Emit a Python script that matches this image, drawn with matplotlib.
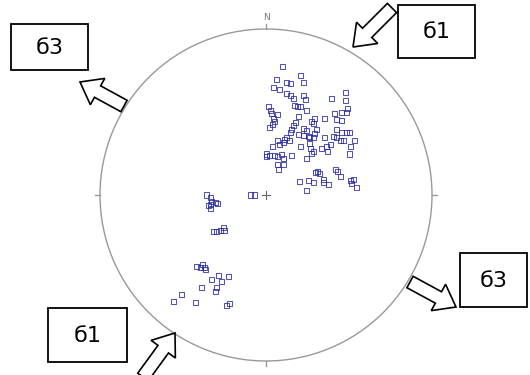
import numpy as np
import matplotlib
matplotlib.use("Agg")
import matplotlib.pyplot as plt
from matplotlib.patches import Circle, FancyArrow, Rectangle

# Poles in the equal-area net, unit-circle coordinates (east, north)
pole_x = [0.098, 0.064, 0.209, 0.125, 0.149, 0.223, 0.048, 0.080, 0.125, 0.145,
          0.225, 0.164, 0.235, 0.476, 0.478, 0.393, 0.014, 0.028, 0.034, 0.170,
          0.189, 0.205, 0.245, 0.492, 0.482, 0.070, 0.044, 0.054, 0.193, 0.414,
          0.456, 0.291, 0.351, 0.175, 0.164, 0.275, 0.285, 0.422, 0.454, 0.024,
          0.040, 0.155, 0.145, 0.225, 0.241, 0.305, 0.295, 0.426, 0.456, 0.486,
          0.506, 0.125, 0.140, 0.104, 0.114, 0.195, 0.225, 0.255, 0.265, 0.285,
          0.351, 0.405, 0.426, 0.446, 0.466, 0.536, 0.070, 0.084, 0.040, 0.205,
          0.265, 0.271, 0.336, 0.366, 0.386, 0.512, 0.506, 0.004, 0.004, 0.024,
          0.054, 0.068, 0.095, 0.104, 0.155, 0.245, 0.275, 0.289, 0.369, 0.068,
          0.074, 0.108, 0.301, 0.309, 0.325, 0.416, 0.430, 0.446, 0.201, 0.255,
          0.285, 0.345, 0.349, 0.375, 0.510, 0.530, 0.516, 0.546, 0.245, -0.096,
          -0.072, -0.357, -0.333, -0.327, -0.307, -0.293, -0.337, -0.348, -0.337,
          -0.317, -0.297, -0.277, -0.253, -0.257, -0.417, -0.393, -0.381, -0.373,
          -0.367, -0.287, -0.227, -0.327, -0.267, -0.387, -0.297, -0.307, -0.508,
          -0.558, -0.422, -0.237, -0.221]
pole_y = [0.773, 0.697, 0.721, 0.677, 0.673, 0.677, 0.646, 0.633, 0.613, 0.598,
          0.598, 0.583, 0.577, 0.620, 0.568, 0.583, 0.536, 0.512, 0.492, 0.542,
          0.532, 0.536, 0.512, 0.520, 0.496, 0.486, 0.462, 0.442, 0.472, 0.488,
          0.496, 0.462, 0.462, 0.436, 0.416, 0.442, 0.428, 0.452, 0.448, 0.408,
          0.422, 0.392, 0.375, 0.402, 0.386, 0.392, 0.372, 0.392, 0.375, 0.375,
          0.378, 0.348, 0.331, 0.315, 0.336, 0.367, 0.361, 0.355, 0.348, 0.348,
          0.348, 0.355, 0.348, 0.331, 0.327, 0.327, 0.331, 0.307, 0.291, 0.291,
          0.311, 0.281, 0.281, 0.291, 0.305, 0.295, 0.247, 0.247, 0.231, 0.235,
          0.235, 0.231, 0.241, 0.221, 0.235, 0.221, 0.251, 0.261, 0.261, 0.181,
          0.155, 0.181, 0.134, 0.139, 0.131, 0.151, 0.139, 0.114, 0.080, 0.090,
          0.074, 0.095, 0.074, 0.062, 0.090, 0.095, 0.070, 0.046, 0.030, 0.000,
          0.000, 0.000, -0.014, -0.040, -0.046, -0.050, -0.060, -0.066, -0.080,
          -0.221, -0.221, -0.215, -0.211, -0.195, -0.428, -0.436, -0.416, -0.436,
          -0.448, -0.482, -0.492, -0.508, -0.522, -0.556, -0.556, -0.583, -0.602,
          -0.639, -0.649, -0.663, -0.652]

# Principal stress labels, one per box
stress_labels = ["б3", "б1", "б3", "б1"]

W, H = 530, 375
fig = plt.figure(figsize=(W / 100, H / 100), dpi=100)

# Net placement (pixels): centre and radius
cx, cy, R = 266, 195, 166
net = fig.add_axes([(cx - R) / W, (H - cy - R) / H, 2 * R / W, 2 * R / H])
net.set_xlim(-1, 1)
net.set_ylim(-1, 1)
net.set_aspect("equal")
net.axis("off")

grey = "#999999"
net.add_patch(Circle((0, 0), 1, fill=False, ec=grey, lw=1.0, clip_on=False))
t = 0.03
for (x0, y0, x1, y1) in [(0, 1, 0, 1 + t), (1, 0, 1 + t, 0),
                         (0, -1, 0, -1 - t), (-1, 0, -1 - t, 0)]:
    net.plot([x0, x1], [y0, y1], color=grey, lw=1.0, clip_on=False)
net.text(0, 1.04, "N", ha="center", va="bottom", fontsize=6.5, color="#777777")
c = 0.025
net.plot([-c, c], [0, 0], color="#666666", lw=0.8)
net.plot([0, 0], [-c, c], color="#666666", lw=0.8)

net.scatter(pole_x, pole_y, marker="s", s=13, facecolors="none",
            edgecolors="#2a2aa0", linewidths=0.75, alpha=0.8, clip_on=False)

# Overlay in pixel units for the stress boxes and arrows
ov = fig.add_axes([0, 0, 1, 1])
ov.set_xlim(0, W)
ov.set_ylim(H, 0)
ov.axis("off")
ov.patch.set_alpha(0)

boxes = [(11, 24, 77, 46), (398, 5, 77, 53), (460, 253, 67, 54), (48, 308, 79, 54)]
arrows = [((124, 106), (80, 82)), ((392, 8), (353, 47)),
          ((410, 282), (456, 307)), ((143, 377), (175, 333))]

for lab, (bx, by, bw, bh) in zip(stress_labels, boxes):
    ov.add_patch(Rectangle((bx, by), bw, bh, fill=True, fc="white",
                           ec="black", lw=1.3))
    ov.text(bx + bw / 2, by + bh / 2 + 1, lab, ha="center", va="center",
            fontsize=16, color="black")

for (x0, y0), (x1, y1) in arrows:
    ov.add_patch(FancyArrow(x0, y0, x1 - x0, y1 - y0, width=13,
                            head_width=30, head_length=20,
                            length_includes_head=True, fc="white",
                            ec="black", lw=1.2, joinstyle="miter"))

fig.savefig("out.png", dpi=100, facecolor="white")
